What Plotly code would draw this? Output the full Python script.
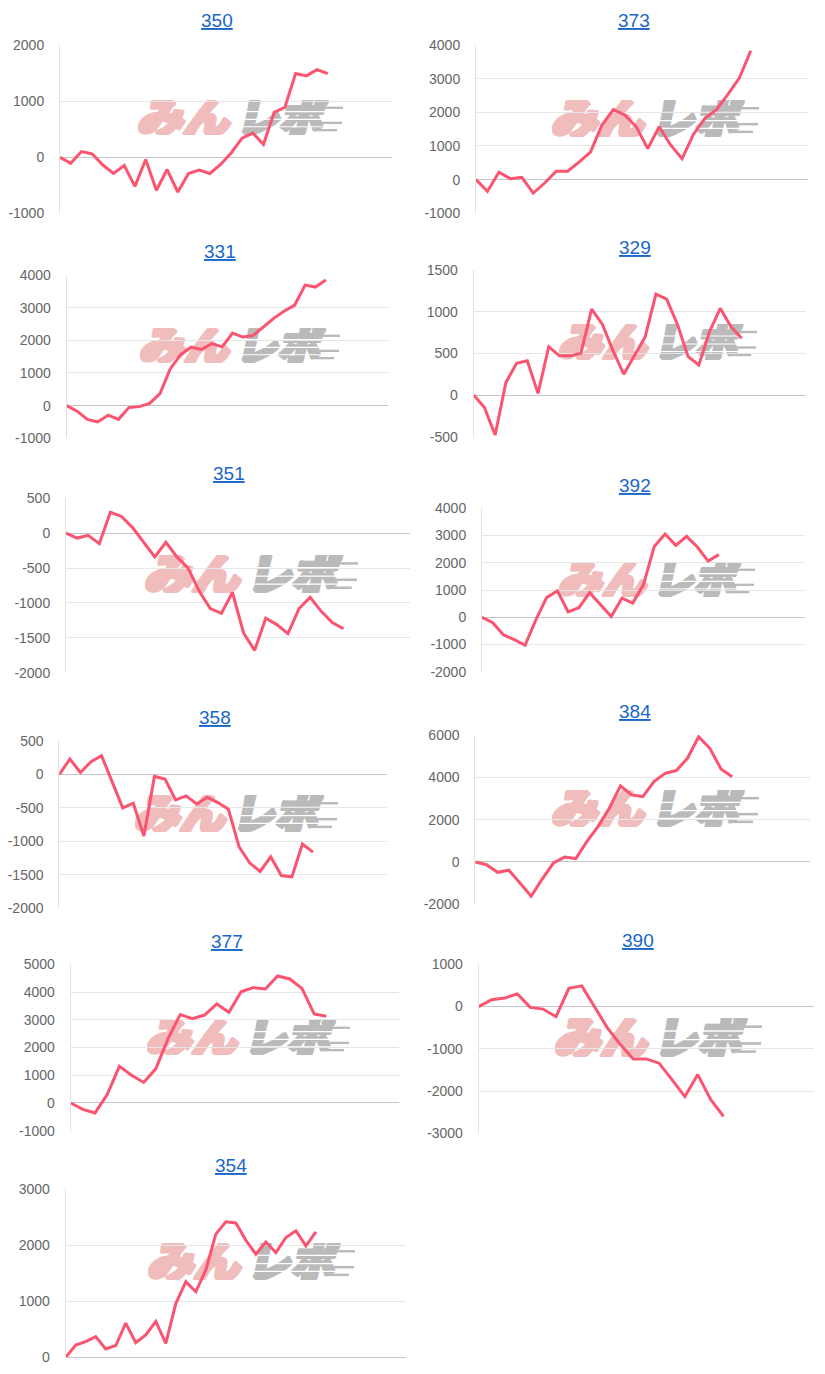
import base64
import plotly.graph_objects as go

W, H = 825, 1374

# ---------------- data ----------------
titles = ["350", "373", "331", "329", "351", "392", "358", "384", "377", "390", "354"]

s350 = [0, -110, 100, 60, -140, -290, -150, -520, -40, -590, -220, -620, -290, -230, -290,
        -130, 80, 340, 430, 230, 800, 890, 1490, 1450, 1560, 1490]
s373 = [0, -350, 220, 30, 70, -400, -100, 250, 250, 520, 820, 1620, 2080, 1920, 1570, 920,
        1570, 1030, 620, 1350, 1820, 2080, 2530, 3020, 3830]
s331 = [0, -170, -420, -500, -290, -420, -60, -30, 70, 370, 1130, 1560, 1790, 1720, 1900,
        1800, 2220, 2100, 2150, 2420, 2680, 2900, 3080, 3690, 3630, 3850]
s329 = [0, -150, -480, 150, 380, 410, 20, 580, 470, 470, 500, 1030, 850, 530, 250, 470, 700,
        1210, 1150, 850, 460, 360, 760, 1040, 820, 680]
s351 = [0, -70, -30, -150, 300, 240, 80, -130, -340, -130, -340, -500, -830, -1080, -1150,
        -850, -1430, -1680, -1220, -1310, -1440, -1080, -920, -1120, -1280, -1370]
s392 = [0, -200, -650, -820, -1030, -100, 720, 970, 200, 350, 900, 450, 30, 700, 520, 1200,
        2600, 3060, 2640, 2970, 2580, 2060, 2300]
s358 = [0, 230, 30, 190, 280, -120, -500, -430, -920, -30, -70, -380, -320, -440, -340, -420,
        -520, -1080, -1320, -1450, -1230, -1510, -1530, -1040, -1160]
s384 = [0, -130, -490, -390, -990, -1620, -800, -50, 230, 160, 970, 1680, 2540, 3600, 3170,
        3090, 3800, 4190, 4320, 4900, 5920, 5370, 4400, 4030]
s377 = [0, -230, -360, 300, 1320, 1000, 740, 1240, 2320, 3190, 3040, 3170, 3570, 3270, 4010,
        4160, 4110, 4580, 4470, 4130, 3210, 3130]
s390 = [0, 160, 200, 300, -20, -60, -240, 430, 490, -20, -510, -900, -1240, -1240, -1340,
        -1730, -2130, -1610, -2200, -2600]
s354 = [0, 220, 280, 370, 150, 210, 610, 260, 400, 640, 250, 960, 1350, 1170, 1560, 2200,
        2420, 2400, 2090, 1840, 2060, 1870, 2140, 2260, 1990, 2240]

series = [s350, s373, s331, s329, s351, s392, s358, s384, s377, s390, s354]

ticks350 = [-1000, 0, 1000, 2000]
ticks373 = [-1000, 0, 1000, 2000, 3000, 4000]
ticks331 = [-1000, 0, 1000, 2000, 3000, 4000]
ticks329 = [-500, 0, 500, 1000, 1500]
ticks351 = [-2000, -1500, -1000, -500, 0, 500]
ticks392 = [-2000, -1000, 0, 1000, 2000, 3000, 4000]
ticks358 = [-2000, -1500, -1000, -500, 0, 500]
ticks384 = [-2000, 0, 2000, 4000, 6000]
ticks377 = [-1000, 0, 1000, 2000, 3000, 4000, 5000]
ticks390 = [-3000, -2000, -1000, 0, 1000]
ticks354 = [0, 1000, 2000, 3000]
tick_sets = [ticks350, ticks373, ticks331, ticks329, ticks351, ticks392, ticks358,
             ticks384, ticks377, ticks390, ticks354]

# number of category slots on each x axis
slots = [31, 29, 31, 31, 31, 30, 31, 30, 27, 26, 34]

# ---------------- layout geometry (pixels) ----------------
boxes = [(60, 392, 45, 213.3), (476, 808, 45, 213.3),
         (66.7, 388, 275, 438.3), (473.7, 806, 270, 436.7),
         (66, 410, 498.3, 672.7), (482, 805, 508.3, 671.7),
         (59.3, 387, 741, 908.3), (475.3, 810.3, 735, 904.3),
         (70.7, 399.3, 964.3, 1130.7), (478.7, 813.7, 964.3, 1133.3),
         (65.7, 406, 1189.3, 1357.3)]
title_pos = [(217, 21), (634, 21), (220, 252), (635, 247), (229, 473), (635, 485),
             (215, 717), (635, 711), (227, 941), (638, 940), (231, 1165)]
mark_boxes = [(138, 100, 343, 135), (552, 100, 759, 137), (140, 328, 340, 363),
              (559, 324, 757, 360), (145, 555, 358, 593), (559, 562, 755, 597),
              (135, 795, 338, 832), (552, 790, 759, 827), (147, 1020, 350, 1055),
              (555, 1018, 762, 1057), (148, 1243, 355, 1280)]

LINE = "rgb(250,84,112)"
GRID = "#e6e6e6"

mark_svg = """<svg xmlns="http://www.w3.org/2000/svg" width="410" height="72" viewBox="0 0 205 36">
<g transform="translate(6,0) skewX(-12)">
<text x="0" y="34" font-family="Noto Sans CJK JP" font-weight="900" font-size="42"
 fill="#f0bcbc" stroke="#f0bcbc" stroke-width="4" stroke-linejoin="round"
 textLength="92" lengthAdjust="spacingAndGlyphs">みん</text>
<text x="99" y="34" font-family="Noto Sans CJK JP" font-weight="900" font-size="42"
 fill="#bababa" stroke="#bababa" stroke-width="4" stroke-linejoin="round"
 textLength="86" lengthAdjust="spacingAndGlyphs">レポ</text>
</g>
<g stroke="#ffffff" stroke-width="1.2">
<line x1="102" y1="12" x2="205" y2="12"/>
<line x1="102" y1="20" x2="205" y2="20"/>
<line x1="102" y1="27.5" x2="205" y2="27.5"/>
</g>
<g stroke="#bababa" stroke-width="2.4">
<line x1="180" y1="8" x2="205" y2="8"/>
<line x1="184" y1="23.5" x2="204" y2="23.5"/>
<line x1="176" y1="31" x2="199" y2="31"/>
</g>
</svg>"""
mark_src = "data:image/svg+xml;base64," + base64.b64encode(mark_svg.encode("utf-8")).decode()

fig = go.Figure()
layout = dict(width=W, height=H, autosize=False, margin=dict(l=0, r=0, t=0, b=0, pad=0),
              paper_bgcolor="white", plot_bgcolor="white", showlegend=False,
              hovermode=False, annotations=[], images=[])

for i, (vals, ticks, n) in enumerate(zip(series, tick_sets, slots)):
    k = i + 1
    xa = "x" if k == 1 else f"x{k}"
    ya = "y" if k == 1 else f"y{k}"
    fig.add_trace(go.Scatter(x=list(range(len(vals))), y=vals, mode="lines",
                             line=dict(color=LINE, width=3), xaxis=xa, yaxis=ya))
    l, r, t, b = boxes[i]
    xkey = "xaxis" if k == 1 else f"xaxis{k}"
    ykey = "yaxis" if k == 1 else f"yaxis{k}"
    layout[xkey] = dict(domain=[l / W, r / W], range=[0, n], anchor=ya,
                        showgrid=False, zeroline=False, showline=False, automargin=False,
                        showticklabels=False, ticks="", fixedrange=True)
    layout[ykey] = dict(domain=[1 - b / H, 1 - t / H], range=[min(ticks), max(ticks)],
                        anchor=xa, tickvals=ticks, ticktext=[str(v) for v in ticks],
                        showgrid=True, gridcolor=GRID, gridwidth=1, automargin=False,
                        zeroline=True, zerolinecolor="#c6c6c6", zerolinewidth=1,
                        showline=True, linecolor="#e2e2e2", linewidth=1,
                        ticks="", ticklabelstandoff=12, fixedrange=True,
                        tickfont=dict(family="Liberation Sans, Arial, sans-serif",
                                      size=14, color="#666666"))
    cx, cy = title_pos[i]
    layout["annotations"].append(dict(
        text=f"<u>{titles[i]}</u>", xref="paper", yref="paper",
        x=cx / W, y=1 - cy / H, xanchor="center", yanchor="middle", showarrow=False,
        font=dict(family="Liberation Sans, Arial, sans-serif", size=19, color="#1a66c8")))
    x0, y0, x1, y1 = mark_boxes[i]
    layout["images"].append(dict(
        source=mark_src, xref="paper", yref="paper", x=x0 / W, y=1 - y0 / H,
        sizex=(x1 - x0) / W, sizey=(y1 - y0) / H, xanchor="left", yanchor="top",
        sizing="stretch", layer="below", opacity=1))

fig.update_layout(**layout)
fig.write_html("out.html")
